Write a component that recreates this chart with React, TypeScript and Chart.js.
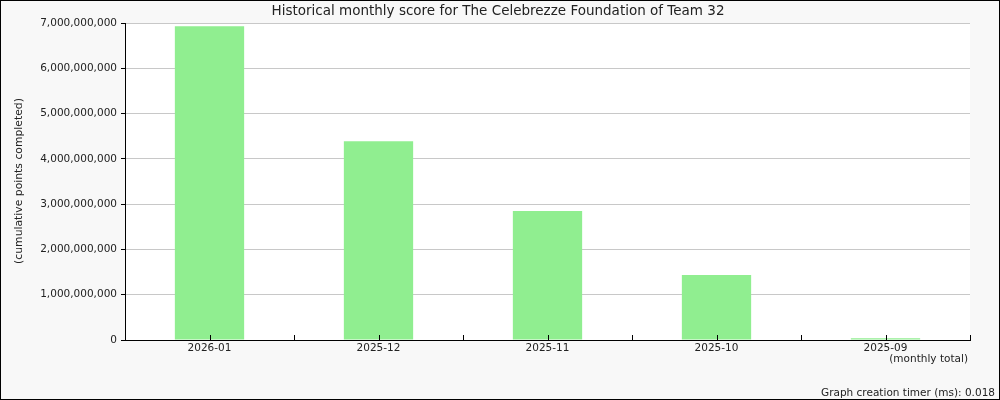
import React, { useEffect, useRef } from "react";
import { Chart, registerables } from "chart.js";

Chart.register(...registerables);

const categories = ["2026-01", "2025-12", "2025-11", "2025-10", "2025-09"];
const monthlyScores = [6930000000, 4390000000, 2850000000, 1435000000, 40000000];
const yTickMax = 7000000000;
const yTickStep = 1000000000;
const titleText = "Historical monthly score for The Celebrezze Foundation of Team 32";
const yAxisTitle = "(cumulative points completed)";
const xAxisNote = "(monthly total)";
const footerText = "Graph creation timer (ms): 0.018";

const FONT = '"DejaVu Sans", sans-serif';
const TEXT = "#222222";

const decorPlugin = {
  id: "decor",
  beforeDraw(chart: any) {
    const { ctx, chartArea, width, height } = chart;
    ctx.save();
    ctx.fillStyle = "#f8f8f8";
    ctx.fillRect(0, 0, width, height);
    ctx.fillStyle = "#ffffff";
    ctx.fillRect(chartArea.left, chartArea.top, chartArea.right - chartArea.left, chartArea.bottom - chartArea.top);
    ctx.restore();
  },
  afterDraw(chart: any) {
    const { ctx, chartArea, width, height } = chart;
    const x = chart.scales.x;
    ctx.save();
    ctx.strokeStyle = "#000000";
    ctx.lineWidth = 1;
    const n = categories.length;
    const step = n > 1 ? x.getPixelForValue(1) - x.getPixelForValue(0) : chartArea.right - chartArea.left;
    const marks: number[] = [];
    for (let i = 0; i < n; i++) {
      const c = x.getPixelForValue(i);
      marks.push(c);
      marks.push(c + step / 2);
    }
    ctx.beginPath();
    for (const m of marks) {
      const px = Math.round(m) + 0.5;
      ctx.moveTo(px, chartArea.bottom);
      ctx.lineTo(px, chartArea.bottom - 5);
    }
    ctx.stroke();

    ctx.fillStyle = TEXT;
    ctx.font = `13.5px ${FONT}`;
    ctx.textAlign = "center";
    ctx.textBaseline = "alphabetic";
    ctx.fillText(titleText, 498, 15);
    ctx.font = `10.5px ${FONT}`;
    ctx.textAlign = "right";
    ctx.fillText(xAxisNote, 968, 362);
    ctx.fillText(footerText, 995, 396);
    ctx.save();
    ctx.font = `10.8px ${FONT}`;
    ctx.translate(22, 181);
    ctx.rotate(-Math.PI / 2);
    ctx.textAlign = "center";
    ctx.textBaseline = "alphabetic";
    ctx.fillText(yAxisTitle, 0, 0);
    ctx.restore();

    ctx.strokeStyle = "#000000";
    ctx.lineWidth = 1;
    ctx.strokeRect(0.5, 0.5, width - 1, height - 1);
    ctx.restore();
  },
};

export default function App() {
  const ref = useRef<HTMLCanvasElement | null>(null);
  useEffect(() => {
    document.body.style.margin = "0";
    const canvas = ref.current;
    if (!canvas) return;
    const chart = new Chart(canvas, {
      type: "bar",
      data: {
        labels: categories,
        datasets: [
          {
            data: monthlyScores,
            backgroundColor: "#90ee90",
            borderWidth: 0,
            categoryPercentage: 1,
            barPercentage: 0.41,
          },
        ],
      },
      options: {
        responsive: false,
        animation: false,
        devicePixelRatio: 1,
        layout: { padding: { top: 23, right: 30, left: 0, bottom: 0 } },
        plugins: {
          legend: { display: false },
          title: { display: false },
          tooltip: { enabled: false },
        },
        scales: {
          x: {
            afterFit(scale: any) {
              scale.height = 60;
            },
            grid: { display: false, drawTicks: false },
            border: { display: true, color: "#000000", width: 1 },
            ticks: { color: TEXT, font: { family: FONT, size: 10.5 }, padding: 2, maxRotation: 0 },
          },
          y: {
            min: 0,
            max: yTickMax,
            afterFit(scale: any) {
              scale.width = 125;
            },
            grid: { color: "#c8c8c8", tickColor: "#000000", tickLength: 4 },
            border: { display: true, color: "#000000", width: 1 },
            ticks: {
              stepSize: yTickStep,
              color: TEXT,
              font: { family: FONT, size: 10.5 },
              padding: 4,
              callback: (v: any) => Number(v).toLocaleString("en-US"),
            },
          },
        },
      },
      plugins: [decorPlugin],
    });
    return () => chart.destroy();
  }, []);
  return <canvas ref={ref} width={1000} height={400} style={{ display: "block" }} />;
}
